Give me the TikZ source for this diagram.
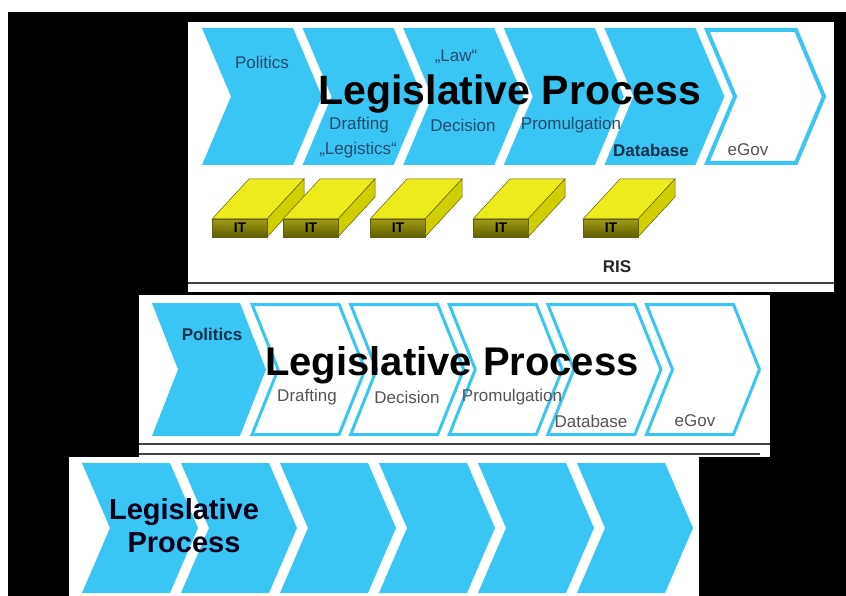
\documentclass[tikz,border=0pt]{standalone}
\usepackage{fontspec}
\setmainfont{Liberation Sans}

\definecolor{procblue}{RGB}{58,198,245}
\definecolor{labelblue}{RGB}{36,76,108}
\definecolor{labeldark}{RGB}{22,48,72}
\definecolor{labelgray}{RGB}{84,84,84}
\definecolor{ittop}{RGB}{236,236,28}
\definecolor{itside}{RGB}{206,206,0}
\definecolor{itfronttop}{RGB}{160,156,20}
\definecolor{itfrontbot}{RGB}{96,94,0}
\definecolor{itedge}{RGB}{96,96,10}

% chevron: left x, top y, bottom y, width, point depth
\newcommand{\chev}[5]{(#1,#2) -- ({#1+#4},#2) -- ({#1+#4+#5},{(#2+#3)/2}) -- ({#1+#4},#3) -- (#1,#3) -- ({#1+#5},{(#2+#3)/2}) -- cycle}

% IT block: left x of the front face, node name
\newcommand{\itblock}[2]{%
  \filldraw[ittop,draw=itedge,line width=0.5pt] (#1,219) -- ({#1+37},179) -- ({#1+92},179) -- ({#1+55},219) -- cycle;
  \filldraw[itside,draw=itedge,line width=0.5pt] ({#1+55},219) -- ({#1+92},179) -- ({#1+92},197) -- ({#1+55},237) -- cycle;
  \shade[top color=itfronttop,bottom color=itfrontbot,draw=itedge,line width=0.5pt] (#1,219) rectangle ({#1+55},237);
  \node[itlabel] (#2) at ({#1+28},228) {IT};
}

\begin{document}
\begin{tikzpicture}[x=1pt,y=-1pt,
    chevfill/.style={fill=procblue},
    chevline/.style={draw=procblue,fill=white,line width=#1,line join=miter},
    chevline/.default=3pt,
    panelline/.style={draw=black!75,line width=1.2pt},
    title/.style={font=\fontsize{#1}{#1}\selectfont\bfseries,text=black,inner sep=0pt},
    steplabel/.style={font=\fontsize{17}{17}\selectfont,inner sep=0pt},
    itlabel/.style={font=\fontsize{14}{14}\selectfont\bfseries,text=black,inner sep=0pt}]
\useasboundingbox (0,0) rectangle (846,596);

%BACKGROUND
\fill[white] (0,0) rectangle (846,596);
\fill[black] (8,12) rectangle (846,596);

%PANEL 1
\fill[white] (188,22) rectangle (834,292);
\draw[panelline] (188,283) -- (834,283);
\foreach \i in {0,...,4}
  \fill[chevfill] \chev{202+100.6*\i}{28}{165}{91}{29};
\draw[chevline=4pt] \chev{707}{30}{163}{89}{28};
%blocks
\foreach \x/\n in {212/it1,283/it2,370/it3,473/it4,583/it5}
  \itblock{\x}{\n};
\node[steplabel,text=labelblue] (pol1) at (262,62) {Politics};
\node[steplabel,text=labelblue] (law1) at (456,57) {„Law“};
\node[steplabel,text=labelblue] (draft1) at (359,125) {Drafting};
\node[steplabel,text=labelblue] (logi1) at (358,150) {„Legistics“};
\node[steplabel,text=labelblue] (dec1) at (463,125) {Decision};
\node[steplabel,text=labelblue] (prom1) at (571,125) {Promulgation};
\node[steplabel,text=labeldark,font=\fontsize{17}{17}\selectfont\bfseries] (db1) at (651,150) {Database};
\node[steplabel,text=labelgray] (egov1) at (748,150) {eGov};
\node[title=41,anchor=base] (title1) at (510,105) {Legislative Process};
\node[steplabel,text=black!85,font=\fontsize{17}{17}\selectfont\bfseries] (ris) at (617,267) {RIS};

%PANEL 2
\fill[white] (139,295) rectangle (770,457);
\draw[panelline] (139,444) -- (770,444);
\draw[panelline] (139,454) -- (760,454);
\fill[chevfill] \chev{152}{303}{436}{88}{26};
\foreach \i in {1,...,5}
  \draw[chevline] \chev{153.5+98.6*\i}{304.5}{434.5}{87}{26};
\node[steplabel,text=labeldark,font=\fontsize{17}{17}\selectfont\bfseries] (pol2) at (212,334) {Politics};
\node[steplabel,text=labelgray] (draft2) at (307,397) {Drafting};
\node[steplabel,text=labelgray] (dec2) at (407,397) {Decision};
\node[steplabel,text=labelgray] (prom2) at (512,397) {Promulgation};
\node[steplabel,text=labelgray] (db2) at (591,421) {Database};
\node[steplabel,text=labelgray] (egov2) at (695,421) {eGov};
\node[title=40,anchor=base] (title2) at (452,375) {Legislative Process};

%PANEL 3
\fill[white] (69,457) rectangle (699,596);
\foreach \i in {0,...,5}
  \fill[chevfill] \chev{82+99*\i}{463}{593}{88}{28};
\node[title=29,font=\fontsize{29}{33}\selectfont\bfseries,align=center,text=black!90!blue] (title3) at (184,526) {Legislative\\Process};

\end{tikzpicture}
\end{document}
